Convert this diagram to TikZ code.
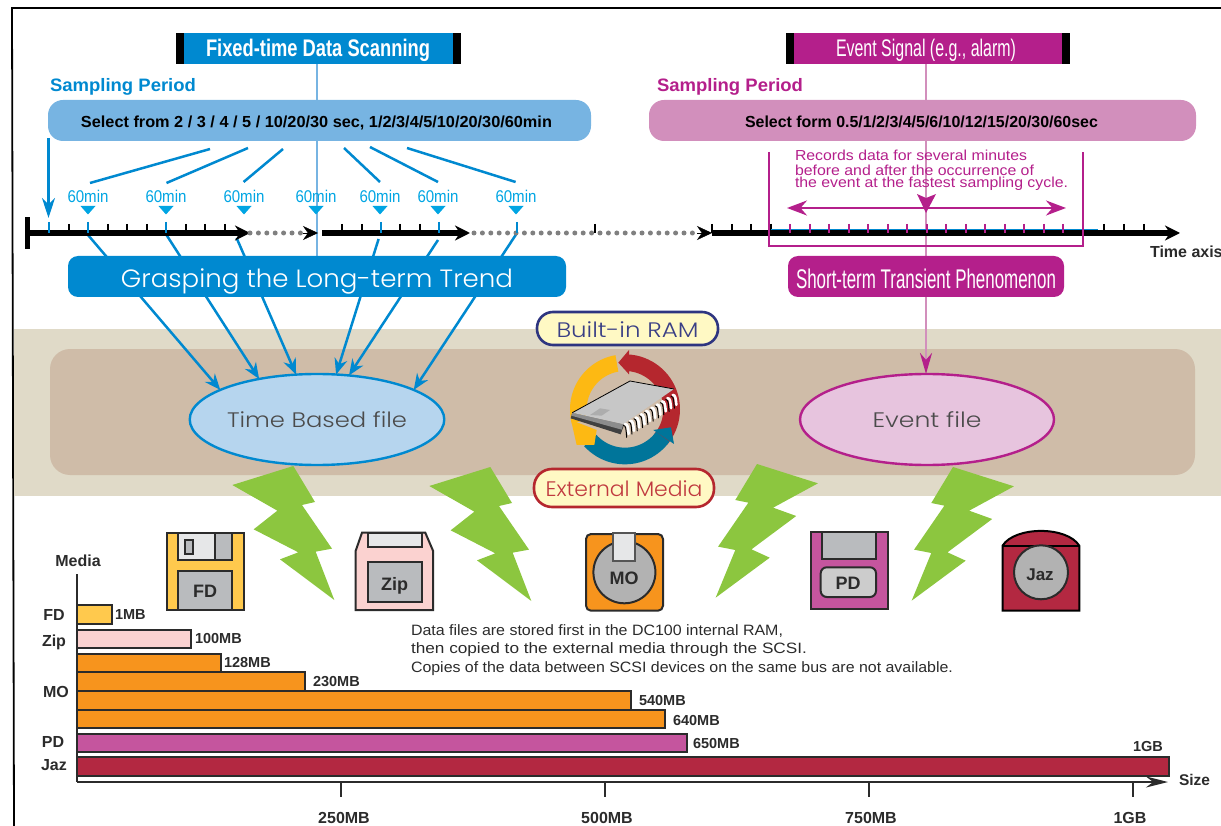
\documentclass[tikz,border=0pt]{standalone}
\usepackage{fontspec}
\setmainfont{Liberation Sans}
\newfontfamily\widef{Poppins Light}
\usetikzlibrary{arrows.meta,calc,shapes.geometric}
\definecolor{cblue}{HTML}{0089D0}
\definecolor{lblue}{HTML}{77B4E2}
\definecolor{sky}{HTML}{00A5E3}
\definecolor{cmag}{HTML}{B41F8B}
\definecolor{lmag}{HTML}{D28FBC}
\definecolor{bandA}{HTML}{E0DAC8}
\definecolor{bandB}{HTML}{CFBCA8}
\definecolor{bolt}{HTML}{8CC63F}
\definecolor{dk}{HTML}{2B2B2B}
\definecolor{gy}{HTML}{B9BBBE}
\definecolor{lgy}{HTML}{E6E7E8}
\definecolor{fdc}{HTML}{FFC94D}
\definecolor{zipc}{HTML}{FBD2D0}
\definecolor{moc}{HTML}{F7941D}
\definecolor{pdc}{HTML}{C5559E}
\definecolor{jazc}{HTML}{B32841}
\definecolor{ringy}{HTML}{FDB913}
\definecolor{ringr}{HTML}{B5272E}
\definecolor{ringb}{HTML}{00759A}
\definecolor{pillbg}{HTML}{FFF9C4}
\definecolor{rampen}{HTML}{2E3580}
\definecolor{ramtxt}{HTML}{3A3F85}
\definecolor{exttxt}{HTML}{C0393F}
\definecolor{tbfc}{HTML}{B6D5EE}
\definecolor{evfc}{HTML}{E7C4DE}
\newcommand\fw[2]{\resizebox{#1pt}{\height}{#2}}
\newcommand\fs[1]{\fontsize{#1}{#1}\selectfont}
\tikzset{
  x=1pt,y=-1pt,
  txt/.style={inner sep=0pt,outer sep=0pt},
  lab/.style={txt,text=dk,font=\fs{14.5}\bfseries},
  sel/.style={rounded corners=15pt,minimum height=41pt,inner sep=0pt,outer sep=0pt},
  head/.style={minimum height=31pt,inner sep=0pt,outer sep=0pt,text=white},
  big/.style={rounded corners=10pt,minimum height=41pt,inner sep=0pt,outer sep=0pt,text=white},
  fan/.style={draw=cblue,line width=2.5pt},
  ar/.style={draw=cblue,line width=2.5pt,-{Stealth[length=16pt,width=13pt]}},
  axis/.style={line width=6pt,-{Stealth[length=15pt,width=15pt]}},
  dots/.style={draw=gray,line width=5pt,line cap=round,dash pattern=on 0pt off 8.4pt},
  tick/.style={line width=2pt},
  mins/.style={txt,text=sky,font=\fs{17}},
  tri/.style={fill=sky},
  bar/.style={draw=dk,line width=2pt},
  icon/.style={draw=dk,line width=2pt},
  pill/.style={line width=2.6pt,inner sep=0pt,outer sep=0pt,fill=pillbg},
  file/.style={ellipse,draw,line width=2.4pt,minimum width=254pt,minimum height=91pt,inner sep=0pt,outer sep=0pt,text=dk!85},
}
\begin{document}
\begin{tikzpicture}
\useasboundingbox (0,0) rectangle (1221,826);
% frame
\draw[line width=1.8pt] (14,826)--(12,8)--(1221,8);
% bands
\fill[bandA] (14,329) rectangle (1221,496);
\fill[bandB,rounded corners=20pt] (50,349) rectangle (1195,475);
% files
\node[file,draw=cblue,fill=tbfc] (tbf) at (317,419.5) {\widef\fs{21}\fw{180}{Time Based file}};
\node[file,draw=cmag,fill=evfc] (evf) at (927,419.5) {\widef\fs{21}\fw{109}{Event file}};
% spines
\coordinate (spA) at (317,64);
\coordinate (spB) at (317,256);
\coordinate (spC) at (926,64);
\coordinate (spD) at (926,374);
\draw[draw=lblue,line width=2.6pt] (spA) -- (spB);
\draw[draw=lmag,line width=2.6pt,-{Stealth[length=21pt,width=12pt,color=cmag,fill=cmag]}] (spC) -- (spD);
% arrows through the trend box
\coordinate (tm1) at (88,235);
\coordinate (tm2) at (166.5,235);
\coordinate (tm3) at (236.6,238);
\coordinate (tm4) at (378.6,239);
\coordinate (tm5) at (438,240);
\coordinate (tm6) at (517,233);
\draw[ar] (tm1) -- (tbf.163);
\draw[ar] (tm2) -- (tbf.145);
\draw[ar] (tm3) -- (tbf.115);
\draw[ar] (tm4) -- (tbf.67);
\draw[ar] (tm5) -- (tbf.54);
\draw[ar] (tm6) -- (tbf.17.5);
% boxes
\node[head,fill=cblue,minimum width=285pt] (fixed) at (318.5,48.5) {};
\fill (176,33) rectangle (184,64);
\fill (453,33) rectangle (461,64);
\node[txt,text=white,font=\fs{24}\bfseries] (fixedt) at (318,50.5) {\fw{224}{Fixed-time Data Scanning}};
\node[head,fill=cmag,minimum width=284pt] (event) at (927.5,48.5) {};
\fill (785.5,33) rectangle (793.5,64);
\fill (1061.5,33) rectangle (1069.5,64);
\node[txt,text=white,font=\fs{24}] (eventt) at (926,50.5) {\fw{180}{Event Signal (e.g., alarm)}};
\node[big,fill=cblue,minimum width=498pt] (trend) at (317,276.5) {};
\node[txt,text=white] (trendt) at (317,281) {\widef\fs{25}\fw{392}{Grasping the Long-term Trend}};
\node[big,fill=cmag,minimum width=276pt] (short) at (926,276.5) {};
\node[txt,text=white] (shortt) at (926,278.5) {\fs{27}\fw{260}{Short-term Transient Phenomenon}};
% sampling
\node[txt,anchor=west,text=cblue,font=\fs{18}\bfseries] (sp1) at (50,87) {\fw{146}{Sampling Period}};
\node[txt,anchor=west,text=cmag,font=\fs{18}\bfseries] (sp2) at (657,87) {\fw{146}{Sampling Period}};
\node[sel,fill=lblue,minimum width=543pt] (s1) at (319.5,120.5) {};
\node[txt,font=\fs{16}\bfseries] (s1t) at (316.5,122.5) {\fw{471}{Select from 2 / 3 / 4 / 5 / 10/20/30 sec, 1/2/3/4/5/10/20/30/60min}};
\node[sel,fill=lmag,minimum width=547pt] (s2) at (922.5,120.5) {};
\node[txt,font=\fs{16}\bfseries] (s2t) at (921.5,122) {\fw{353}{Select form 0.5/1/2/3/4/5/6/10/12/15/20/30/60sec}};
% fans
\coordinate (fa1) at (210,149);\coordinate (fb1) at (90,183);
\coordinate (fa2) at (248,148);\coordinate (fb2) at (166.5,183);
\coordinate (fa3) at (283,149);\coordinate (fb3) at (243.6,182);
\coordinate (fa4) at (344,148);\coordinate (fb4) at (380,182);
\coordinate (fa5) at (370,147);\coordinate (fb5) at (438,182);
\coordinate (fa6) at (407,148);\coordinate (fb6) at (515.6,182);
\foreach \i in {1,...,6} \draw[fan] (fa\i) -- (fb\i);
\coordinate (fy) at (48.5,138);
\coordinate (fz) at (48.5,218);
\draw[draw=cblue,line width=2.5pt,-{Stealth[length=20pt,width=13pt]}] (fy) -- (fz);
% 60min
\foreach \x/\n in {88/a,166/b,244/c,316/d,380/e,438/f,516/g}{
  \node[mins] (m\n) at (\x,196) {\fw{41}{60min}};
  \fill[tri] (\x-7.5,206) -- (\x+7.5,206) -- (\x,214.5) -- cycle;
}
% time axis
\fill (24.5,217) rectangle (30,249);
\draw[axis] (27,233) -- (250,233);
\draw[dots] (250,233) -- (303,233);
\draw[line width=.4pt,-{Stealth[length=15pt,width=14pt]}] (303,233) -- (318,233);
\draw[axis] (322,233) -- (470,233);
\draw[dots] (474,233) -- (697,233);
\draw[line width=.4pt,-{Stealth[length=15pt,width=14pt]}] (697,233) -- (712,233);
\draw[axis] (712,233) -- (1180,233);
\foreach \x in {68.5,107.5,127,146.5,185.5,205,224.5,342,361.5,400,419.5,595,712,732,751,771,1104,1124,1144} \draw[tick] (\x,224) -- (\x,233);
\foreach \x in {49,88,166,380.5,439,517} \draw[tick,draw=cblue] (\x,222) -- (\x,233);
\draw[cblue,line width=1pt] (771,229.5) -- (1098,229.5);
\foreach \k in {0,...,14} \draw[tick,draw=cmag] (790+\k*19.5,224) -- (790+\k*19.5,233);
% bracket
\draw[cmag,line width=2.4pt] (769,152) -- (769,246) -- (1083,246) -- (1083,152);
\node[txt,anchor=west,text=cmag,font=\fs{14.5}] (r1) at (795,155) {\fw{232}{Records data for several minutes}};
\node[txt,anchor=west,text=cmag,font=\fs{14.5}] (r2) at (795,170) {\fw{239}{before and after the occurrence of}};
\node[txt,anchor=west,text=cmag,font=\fs{14.5}] (r3) at (795,184) {\fw{273}{the event at the fastest sampling cycle.}};
\coordinate (dl) at (787,208);\coordinate (dr) at (1066,208);
\draw[cmag,line width=2.4pt,{Stealth[length=20pt,width=15pt]}-{Stealth[length=20pt,width=15pt]}] (dl) -- (dr);
\fill[cmag] (917,194) -- (926,198) -- (936,194) -- (926,213) -- cycle;
\node[lab,anchor=west,font=\fs{16}\bfseries] (tax) at (1150,252) {Time axis};
% ring and chip
\begin{scope}[shift={(500,300)},x=0.33333pt,y=-0.33333pt]
\fill[ringy] plot[domain=100:195,samples=30] ({375+165*cos(\x)},{328-165*sin(\x)}) -- plot[domain=195:100,samples=30] ({375+115*cos(\x)},{328-115*sin(\x)}) -- cycle;
\fill[ringr] plot[domain=87:-40,samples=30] ({375+165*cos(\x)},{328-165*sin(\x)}) -- plot[domain=-40:87,samples=30] ({375+115*cos(\x)},{328-115*sin(\x)}) -- cycle;
\fill[ringr] (387,150) -- (355,188) -- (387,223) -- cycle;
\fill[ringb] plot[domain=222:324,samples=30] ({375+165*cos(\x)},{328-165*sin(\x)}) -- plot[domain=324:222,samples=30] ({375+115*cos(\x)},{328-115*sin(\x)}) -- cycle;
\fill[ringb] (460,390) -- (513,382) -- (522,432) -- cycle;
\fill[ringy] (213,360) -- (290,390) -- (283,435) -- (230,435) -- cycle;
% chip
\fill[black!75] (212,355) -- (362,403) -- (372,375) -- (217,338) -- cycle;
\fill[black!45] (214,347) -- (365,389) -- (370,372) -- (217,338) -- cycle;
\fill[black!22] (217,338) -- (390,243) -- (522,267) -- (370,372) -- cycle;
\draw[line width=.8pt] (217,338) -- (390,243) -- (522,267);
\fill[black!32] (270,345) -- (300,325) -- (330,330) -- (305,347) -- cycle;
\foreach \i in {0,...,9}{
  \draw[line width=1pt,line cap=round] (370+\i*15.9,376-\i*9.7) .. controls (378+\i*15.9,376-\i*9.7) and (378+\i*15.9,388-\i*9.7) .. (380+\i*15.9,412-\i*9.7);
  \draw[white,line width=2.6pt,line cap=round] (375+\i*15.9,372-\i*9.7) .. controls (384+\i*15.9,372-\i*9.7) and (384+\i*15.9,384-\i*9.7) .. (386+\i*15.9,402-\i*9.7);
}
\end{scope}
% ram labels
\node[pill,draw=rampen,rounded corners=16pt,minimum width=181pt,minimum height=33pt] (ram) at (627.5,328.5) {};
\node[txt,text=ramtxt] (ramt) at (627.5,329.5) {\widef\fs{21}\fw{142}{Built-in RAM}};
\node[pill,draw=ringr,rounded corners=18pt,minimum width=180pt,minimum height=38pt] (ext) at (624,488) {};
\node[txt,text=exttxt] (extt) at (624,489) {\widef\fs{21}\fw{157}{External Media}};
% bolts
\begin{scope}[shift={(150,460)},x=0.33333pt,y=-0.33333pt]
\fill[bolt] (247,75) -- (430,18) -- (495,126) -- (456,135) -- (546,266) -- (497,275) -- (553,420) -- (390,298) -- (445,277) -- (311,208) -- (382,152) -- cycle;
\end{scope}
\begin{scope}[shift={(347,461)},x=0.33333pt,y=-0.33333pt]
\fill[bolt] (247,75) -- (430,18) -- (495,126) -- (456,135) -- (546,266) -- (497,275) -- (553,420) -- (390,298) -- (445,277) -- (311,208) -- (382,152) -- cycle;
\end{scope}
\begin{scope}[shift={(570,460)},x=0.34435pt,y=-0.33333pt]
\fill[bolt] (543,12) -- (720,70) -- (590,143) -- (657,168) -- (527,268) -- (580,293) -- (423,413) -- (480,270) -- (430,260) -- (518,128) -- (480,120) -- cycle;
\end{scope}
\begin{scope}[shift={(766,463)},x=0.34435pt,y=-0.33333pt]
\fill[bolt] (543,12) -- (720,70) -- (590,143) -- (657,168) -- (527,268) -- (580,293) -- (423,413) -- (480,270) -- (430,260) -- (518,128) -- (480,120) -- cycle;
\end{scope}
% FD icon
\filldraw[icon,fill=fdc] (167,533) rectangle (244,610);
\filldraw[icon,fill=gy] (178.3,533) rectangle (232.3,560.3);
\filldraw[icon,fill=lgy] (178.3,533) rectangle (215.3,560.3);
\filldraw[icon,fill=gy] (185,540) rectangle (193.3,554);
\filldraw[icon,fill=gy] (178.3,570.7) rectangle (232.3,610);
\node[lab,font=\fs{18}\bfseries] (fdt) at (205,591) {FD};
% Zip icon
\filldraw[icon,fill=zipc] (362,532.7) -- (425.3,532.7) -- (433,550.7) -- (433,610) -- (355.7,610) -- (355.7,550.7) -- cycle;
\filldraw[icon,fill=lgy] (367.7,532.7) rectangle (421.7,546.7);
\filldraw[icon,fill=gy] (367.7,562.3) rectangle (421.7,601.7);
\node[lab,font=\fs{18}\bfseries] (zipt) at (394.5,586) {Zip};
% MO icon
\filldraw[icon,fill=moc,rounded corners=5pt] (586,534) rectangle (663,610.7);
\filldraw[icon,fill=black!30] (624.4,572.3) circle (31);
\filldraw[line width=2pt,draw=dk!80,fill=lgy] (612.7,532.7) rectangle (635.4,561);
\node[lab,font=\fs{18}\bfseries] (mot) at (624,578) {MO};
% PD icon
\filldraw[icon,fill=pdc] (810.7,532.3) rectangle (887.5,609);
\filldraw[icon,fill=gy] (822.4,532.3) rectangle (876,559);
\filldraw[icon,fill=black!20,rounded corners=6pt] (820.7,567.3) rectangle (876,597);
\node[lab,font=\fs{18}\bfseries] (pdt) at (848,583) {PD};
% Jaz icon
\filldraw[line width=2pt,fill=jazc] (1002.5,610.7) -- (1002.5,545.7) .. controls (1015,526) and (1067,526) .. (1079.3,545.7) -- (1079.3,610.7) -- cycle;
\draw[line width=2pt] (1002.5,545.7) -- (1079.3,545.7);
\filldraw[icon,fill=black!30] (1041,572.3) circle (27);
\node[lab,font=\fs{17}\bfseries] (jazt) at (1040,575) {Jaz};
% note
\node[txt,anchor=west,text=dk,font=\fs{15}] (n1) at (411,631) {\fw{372}{Data files are stored first in the DC100 internal RAM,}};
\node[txt,anchor=west,text=dk,font=\fs{15}] (n2) at (411,650) {\fw{396}{then copied to the external media through the SCSI.}};
\node[txt,anchor=west,text=dk,font=\fs{15}] (n3) at (411,668.5) {\fw{542}{Copies of the data between SCSI devices on the same bus are not available.}};
% bars
\filldraw[bar,fill=fdc] (77,605) rectangle (112,623.5);
\filldraw[bar,fill=zipc] (77,630) rectangle (191,648);
\filldraw[bar,fill=moc] (77,654) rectangle (221,672);
\filldraw[bar,fill=moc] (77,672) rectangle (305,691);
\filldraw[bar,fill=moc] (77,691) rectangle (631,709.5);
\filldraw[bar,fill=moc] (77,709.5) rectangle (665,728);
\filldraw[bar,fill=pdc] (77,734) rectangle (687,752);
\filldraw[bar,fill=jazc] (77,757) rectangle (1169,776);
\coordinate (yt) at (77,574);
\coordinate (org) at (77,782);
\coordinate (xe) at (1168,782);
\draw[line width=2.4pt,draw=dk] (yt) -- (org);
\draw[line width=2.4pt,draw=dk,-{Stealth[length=22pt,width=11pt]}] (org) -- (xe);
\foreach \x in {341,605,869,1133} \draw[line width=2.4pt,draw=dk] (\x,782) -- (\x,797);
\foreach \t/\x/\y/\n in {1MB/115/615/a,100MB/195/639/b,128MB/224/663/c,230MB/313/682/d,540MB/639/701/e,640MB/673/721/f,650MB/693/744/g}
  \node[lab,anchor=west] (v\n) at (\x,\y) {\t};
\node[lab] (vj) at (1148,747) {1GB};
\node[lab,anchor=west,font=\fs{15.5}\bfseries] (size) at (1179,780) {Size};
\node[lab,font=\fs{16}\bfseries] (media) at (78,561) {Media};
\foreach \t/\x/\y/\n in {FD/54/615/a,Zip/54/642/b,MO/56/692/c,PD/53/742/d,Jaz/54/765/e}
  \node[lab,font=\fs{16}\bfseries] (c\n) at (\x,\y) {\t};
\foreach \t/\x/\n in {250MB/344/a,500MB/607/b,750MB/871/c,1GB/1130/d}
  \node[lab,font=\fs{16}\bfseries] (h\n) at (\x,818) {\t};
\end{tikzpicture}
\end{document}
